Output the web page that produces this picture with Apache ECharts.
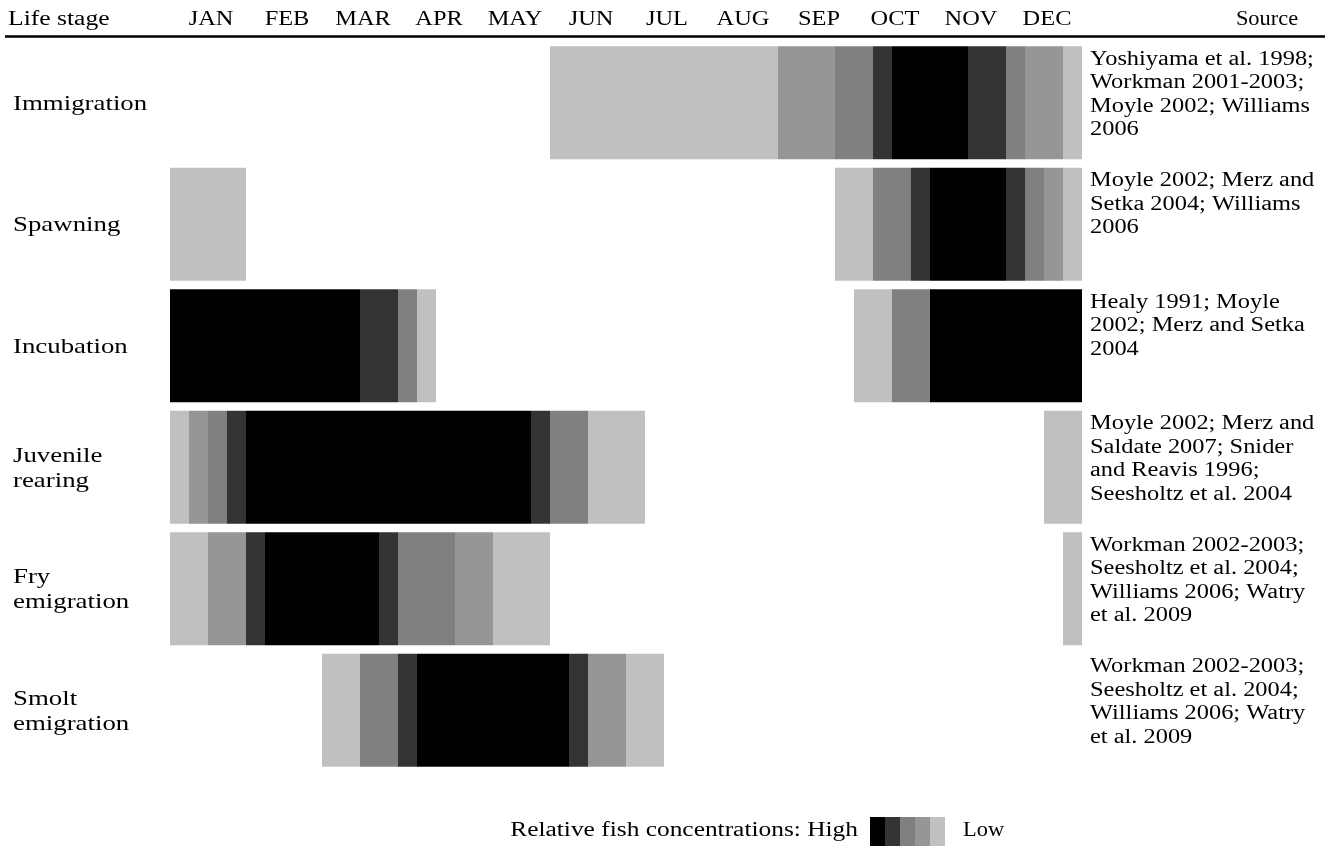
<!DOCTYPE html>
<html>
<head>
<meta charset="utf-8">
<script src="https://cdn.jsdelivr.net/npm/echarts@6/dist/echarts.min.js"></script>
<style>html,body{margin:0;padding:0;background:#fff}#c{width:1325px;height:856px}</style>
</head>
<body>
<div id="c"></div>
<script>
// ---- data ----
const months = ['JAN','FEB','MAR','APR','MAY','JUN','JUL','AUG','SEP','OCT','NOV','DEC'];
const stages = ['Immigration','Spawning','Incubation','Juvenile\nrearing','Fry\nemigration','Smolt\nemigration'];
// segments: [startWeek, endWeek, level]  (4 weeks per month; level 0 = high ... 4 = low)
const immigration = [[20,32,4],[32,35,3],[35,37,2],[37,38,1],[38,42,0],[42,44,1],[44,45,2],[45,47,3],[47,48,4]];
const spawning    = [[0,4,4],[35,37,4],[37,39,2],[39,40,1],[40,44,0],[44,45,1],[45,46,2],[46,47,3],[47,48,4]];
const incubation  = [[0,10,0],[10,12,1],[12,13,2],[13,14,4],[36,38,4],[38,40,2],[40,48,0]];
const juvenile    = [[0,1,4],[1,2,3],[2,3,2],[3,4,1],[4,19,0],[19,20,1],[20,22,2],[22,25,4],[46,48,4]];
const fry         = [[0,2,4],[2,4,3],[4,5,1],[5,11,0],[11,12,1],[12,15,2],[15,17,3],[17,20,4],[47,48,4]];
const smolt       = [[8,10,4],[10,12,2],[12,13,1],[13,21,0],[21,22,1],[22,24,3],[24,26,4]];
const sources = [
  'Yoshiyama et al. 1998;\nWorkman 2001-2003;\nMoyle 2002; Williams\n2006',
  'Moyle 2002; Merz and\nSetka 2004; Williams\n2006',
  'Healy 1991; Moyle\n2002; Merz and Setka\n2004',
  'Moyle 2002; Merz and\nSaldate 2007; Snider\nand Reavis 1996;\nSeesholtz et al. 2004',
  'Workman 2002-2003;\nSeesholtz et al. 2004;\nWilliams 2006; Watry\net al. 2009',
  'Workman 2002-2003;\nSeesholtz et al. 2004;\nWilliams 2006; Watry\net al. 2009'
];
const levelColors = ['#000000','#333333','#808080','#969696','#c0c0c0'];
const legendLevels = [0,1,2,3,4];

// ---- build ----
const rows = [immigration, spawning, incubation, juvenile, fry, smolt];
const segData = [];
rows.forEach((segs, r) => segs.forEach(s => segData.push([s[0], s[1], r, s[2]])));

const FONT = "'Liberation Serif','Times New Roman',serif";
const SX = 1.22; // horizontal text stretch seen in the reference
const chart = echarts.init(document.getElementById('c'), null, {renderer:'canvas'});

const option = {
  animation: false,
  backgroundColor: '#fff',
  grid: {left: 170, right: 243, top: 42, bottom: 85},
  xAxis: [
    {type:'value', min:0, max:48, interval:4, show:false},
    {type:'category', data: months, position:'top', show:false}
  ],
  yAxis: {type:'category', data: stages, inverse:true, show:false},
  series: [
    // bars
    {type:'custom', xAxisIndex:0, data: segData, encode:{x:[0,1], y:2},
     renderItem: function(params, api){
       const s = api.coord([api.value(0), api.value(2)]);
       const e = api.coord([api.value(1), api.value(2)]);
       const band = api.size([0,1])[1];
       const h = band * 0.93;
       return {type:'rect', shape:{x:s[0], y:s[1]-h/2, width:e[0]-s[0], height:h},
               style:{fill: levelColors[api.value(3)]}};
     }},
    // month labels (header)
    {type:'custom', xAxisIndex:0, data: months.map((m,i)=>[i*4+2, 0]), encode:{x:0,y:1},
     renderItem: function(params, api){
       const p = api.coord([api.value(0), 0]);
       return {type:'text', x:p[0]+3, y:20, scaleX:SX,
               style:{text: months[params.dataIndex], font:'20px '+FONT, fill:'#000',
                      textAlign:'center', textVerticalAlign:'middle'}};
     }},
    // life stage labels
    {type:'custom', xAxisIndex:0, data: stages.map((s,i)=>[0,i]), encode:{x:0,y:1},
     renderItem: function(params, api){
       const p = api.coord([0, api.value(1)]);
       return {type:'text', x:13, y:p[1]+1, scaleX:SX,
               style:{text: stages[params.dataIndex], font:'22px '+FONT, fill:'#000',
                      textAlign:'left', textVerticalAlign:'middle', lineHeight:25}};
     }},
    // sources
    {type:'custom', xAxisIndex:0, data: sources.map((t,i)=>[48,i]), encode:{x:0,y:1},
     renderItem: function(params, api){
       const p = api.coord([48, api.value(1)]);
       const band = api.size([0,1])[1];
       return {type:'text', x:p[0]+8, y:p[1]-band*0.93/2 + 1.5, scaleX:SX,
               style:{text: sources[params.dataIndex], font: '20px '+FONT, fill:'#000',
                      textAlign:'left', textVerticalAlign:'top', lineHeight:23.5}};
     }}
  ],
  graphic: [
    {type:'text', x:8, y:20, scaleX:1.28, style:{text:'Life stage', font:'20px '+FONT, fill:'#000', textAlign:'left', textVerticalAlign:'middle'}},
    {type:'text', x:1267, y:20, scaleX:1.12, style:{text:'Source', font:'20px '+FONT, fill:'#000', textAlign:'center', textVerticalAlign:'middle'}},
    {type:'line', shape:{x1:5, y1:36.5, x2:1325, y2:36.5}, style:{stroke:'#000', lineWidth:2.5}},
    {type:'text', x:858, y:831, scaleX:1.27, style:{text:'Relative fish concentrations: High', font:'20px '+FONT, fill:'#000', textAlign:'right', textVerticalAlign:'middle'}},
    {type:'text', x:963, y:831, scaleX:1.12, style:{text:'Low', font:'20px '+FONT, fill:'#000', textAlign:'left', textVerticalAlign:'middle'}}
  ].concat(legendLevels.map((l,i)=>({type:'rect', shape:{x:870+i*15, y:817, width:15, height:29}, style:{fill:levelColors[l]}})))
};
chart.setOption(option);
</script>
</body>
</html>
